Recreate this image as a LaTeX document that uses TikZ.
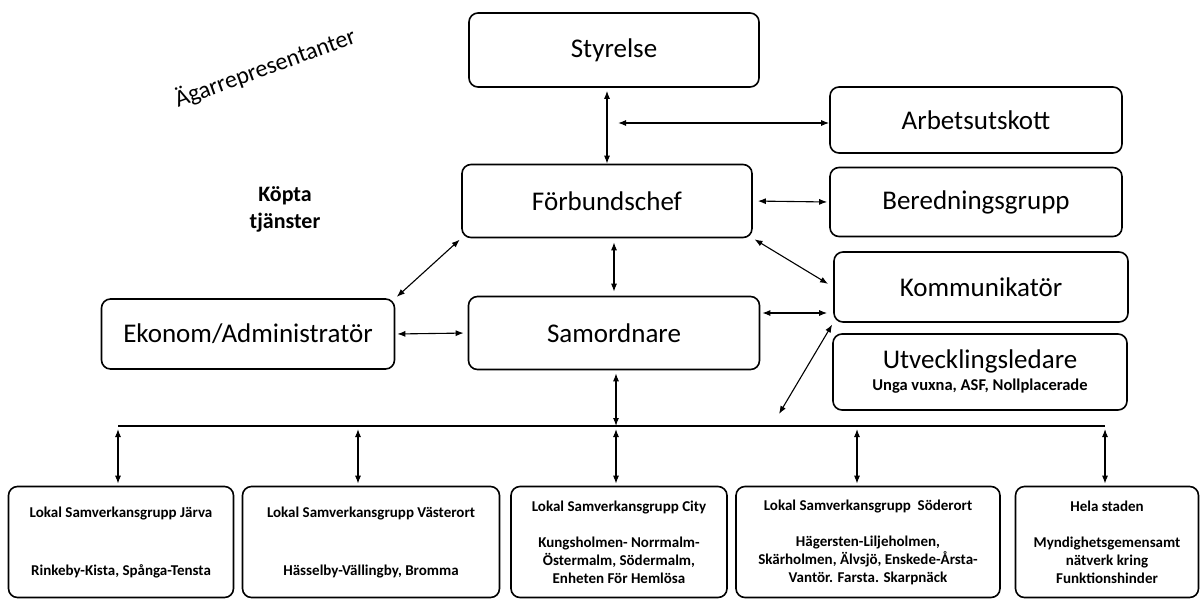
\documentclass[tikz,border=0pt]{standalone}
\usepackage{fontspec}
\setmainfont{Carlito}
\usetikzlibrary{arrows.meta}
\tikzstyle{box}=[%
	draw, rounded corners=9pt, line width=1.6pt, align=center, inner sep=2pt,
	font=\fontsize{27}{30}\selectfont
]
\tikzstyle{group}=[%
	box, font=\fontsize{15}{18}\selectfont\bfseries, minimum height=111pt
]
\tikzstyle{conn}=[%
	{Latex[length=8pt,width=6pt]}-{Latex[length=8pt,width=6pt]}, line width=1.1pt
]

\begin{document}
\begin{tikzpicture}[x=1pt, y=-1pt]
	\useasboundingbox (0,0) rectangle (1201,603);

	\node[rotate=20, font=\fontsize{24}{26}\selectfont] (agar) at (265,68) {Ägarrepresentanter};
	\node[align=center, font=\fontsize{22}{27}\selectfont\bfseries] (kopta) at (285,209) {Köpta\\tjänster};

	\node[box, minimum width=290pt, minimum height=74pt] (sty) at (614,50) {Styrelse};
	\node[box, minimum width=292pt, minimum height=66pt] (arb) at (976,120) {Arbetsutskott};
	\node[box, minimum width=290pt, minimum height=73pt] (forb) at (607,201) {Förbundschef};
	\node[box, minimum width=292pt, minimum height=69pt] (bered) at (976,202) {Beredningsgrupp};
	\node[box, minimum width=294pt, minimum height=70pt] (komm) at (981,287) {Kommunikatör};
	\node[box, minimum width=294pt, minimum height=76pt] (utv) at (980,372)
		{Utvecklingsledare\\[-8pt]{\fontsize{16.5}{18}\selectfont\bfseries Unga vuxna, ASF, Nollplacerade}};
	\node[box, minimum width=293pt, minimum height=70pt] (ekon) at (248,334) {Ekonom/Administratör};
	\node[box, minimum width=291pt, minimum height=73pt] (samo) at (614,333) {Samordnare};

	\node[group, minimum width=225pt] (g1) at (121,542)
		{Lokal Samverkansgrupp Järva\\[40pt]Rinkeby-Kista, Spånga-Tensta};
	\node[group, minimum width=257pt] (g2) at (371,542)
		{Lokal Samverkansgrupp Västerort\\[40pt]Hässelby-Vällingby, Bromma};
	\node[group, minimum width=216pt] (g3) at (619,542)
		{Lokal Samverkansgrupp City\\[18pt]Kungsholmen- Norrmalm-\\Östermalm, Södermalm,\\Enheten För Hemlösa};
	\node[group, minimum width=264pt] (g4) at (868,542)
		{Lokal Samverkansgrupp\ \ Söderort\\[18pt]Hägersten-Liljeholmen,\\Skärholmen, Älvsjö, Enskede-Årsta-\\Vantör. Farsta. Skarpnäck};
	\node[group, minimum width=183pt] (g5) at (1107,542)
		{Hela staden\\[18pt]Myndighetsgemensamt\\nätverk kring\\Funktionshinder};

	\coordinate (junc) at (618,123);
	\coordinate (utvend) at (779,414);
	\coordinate (bus1) at (118,426);
	\coordinate (bus2) at (358,426);
	\coordinate (bus3) at (616,426);
	\coordinate (bus4) at (857,426);
	\coordinate (bus5) at (1105,426);

	\draw[conn, shorten <=3pt] (sty.south -| forb.north) -- (forb.north);
	\draw[conn] (junc) -- (arb.west |- junc);
	\draw[conn, shorten <=5pt, shorten >=2pt] (forb.east) -- (bered.west);
	\draw[conn, shorten <=4pt, shorten >=4pt] (forb.south -| samo.north) -- (samo.north);
	\draw[conn, shorten <=2pt, shorten >=2pt] (forb.south west) -- (ekon.north east);
	\draw[conn, shorten <=2pt, shorten >=6pt] (forb.south east) -- (komm.west);
	\draw[conn, shorten <=2pt, shorten >=6pt] ([yshift=20pt]samo.east) -- ([yshift=20pt]samo.east -| komm.west);
	\draw[conn, shorten <=2pt, shorten >=4pt] (ekon.east) -- (samo.west);
	\draw[conn, shorten <=2pt] (komm.south west) -- (utvend);
	\draw[conn, shorten <=3pt] (samo.south -| bus3) -- (bus3);

	\draw[line width=1.1pt] (bus1) -- (bus5);
	\foreach \x in {1,...,5} {
		\draw[conn, shorten <=3pt, shorten >=2pt] (bus\x) -- (bus\x |- g\x.north);
	};
\end{tikzpicture}
\end{document}
